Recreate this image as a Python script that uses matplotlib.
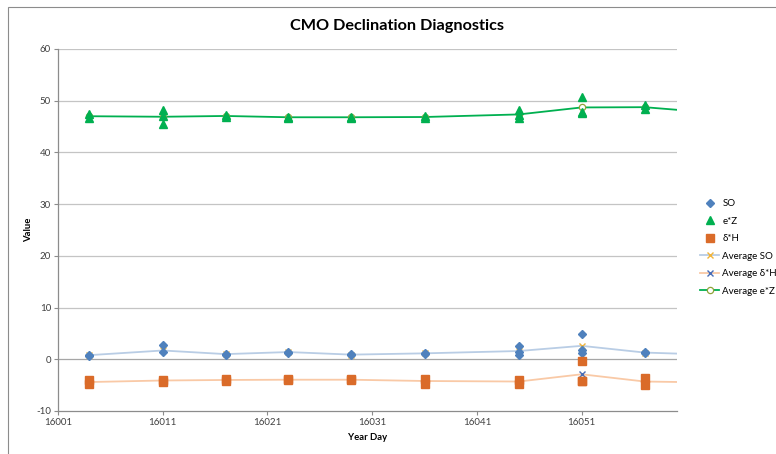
import matplotlib
matplotlib.use("Agg")
import matplotlib.pyplot as plt
from matplotlib.lines import Line2D
from matplotlib.patches import Rectangle

plt.rcParams['font.family'] = ['Lato', 'DejaVu Sans']

# ---- data ----
so_days = [16004, 16004, 16011, 16011, 16017, 16017, 16023, 16023, 16029, 16029,
           16036, 16036, 16045, 16045, 16045, 16051, 16051, 16051, 16057, 16057]
so_vals = [0.9, 0.7, 2.7, 1.4, 1.1, 0.9, 1.5, 1.2, 1.0, 0.8,
           1.3, 1.0, 2.5, 1.4, 0.9, 4.9, 1.8, 1.2, 1.4, 1.2]

ez_days = [16004, 16004, 16011, 16011, 16011, 16017, 16017, 16023, 16023, 16029, 16029,
           16036, 16036, 16045, 16045, 16045, 16051, 16051, 16051, 16057, 16057]
ez_vals = [47.4, 46.6, 48.2, 47.0, 45.5, 47.2, 46.9, 46.9, 46.7, 46.9, 46.7,
           47.1, 46.6, 48.2, 47.3, 46.6, 50.8, 47.8, 47.6, 49.1, 48.4]

dh_days = [16004, 16004, 16011, 16011, 16017, 16017, 16023, 16023, 16029, 16029,
           16036, 16036, 16045, 16045, 16051, 16051, 16051, 16057, 16057]
dh_vals = [-4.0, -4.8, -4.0, -4.3, -3.9, -4.2, -3.8, -4.1, -3.8, -4.1,
           -3.9, -4.7, -4.0, -4.7, -0.3, -4.2, -4.2, -3.7, -4.9]

avg_days = [16004, 16011, 16017, 16023, 16029, 16036, 16045, 16051, 16057, 16064]
avg_so = [0.8, 1.7, 1.0, 1.4, 0.9, 1.15, 1.6, 2.6, 1.3, 0.85]
avg_dh = [-4.4, -4.1, -4.0, -3.95, -3.95, -4.2, -4.3, -2.9, -4.3, -4.5]
avg_ez = [47.0, 46.9, 47.05, 46.8, 46.8, 46.85, 47.35, 48.7, 48.75, 47.6]

x_ticks = [16001, 16011, 16021, 16031, 16041, 16051]
y_ticks = [-10, 0, 10, 20, 30, 40, 50, 60]

# ---- figure ----
W, H = 776, 454
fig = plt.figure(figsize=(W / 100, H / 100), dpi=100)
fig.patches.append(Rectangle((8 / W, -0.1), 1.2, 1 - 7 / H + 0.1, transform=fig.transFigure,
                             fill=False, edgecolor='#8C8C8C', linewidth=0.8))

ax = fig.add_axes([58 / W, 1 - 411 / H, (677 - 58) / W, (411 - 49) / H])

c_so = '#4F81BD'
c_ez = '#00B050'
c_dh = '#DA6B29'

ax.plot(avg_days, avg_so, color='#B9CDE5', lw=1.3, marker='x', ms=4, mec='#F0B43C',
        mew=1.0, zorder=2)
ax.plot(avg_days, avg_dh, color='#F9C9A6', lw=1.3, marker='x', ms=4, mec='#4A6DB5',
        mew=1.0, zorder=2)
ax.plot(avg_days, avg_ez, color=c_ez, lw=1.3, marker='o', ms=4.5, mfc='white',
        mec='#8FA33A', mew=0.9, zorder=2)

ax.plot(so_days, so_vals, ls='none', marker='D', ms=4.5, color=c_so, zorder=3)
ax.plot(ez_days, ez_vals, ls='none', marker='^', ms=6, color=c_ez, zorder=3)
ax.plot(dh_days, dh_vals, ls='none', marker='s', ms=5.5, color=c_dh, zorder=3)

ax.set_xlim(16001, 16060.1)
ax.set_ylim(-10, 60)
ax.set_xticks(x_ticks)
ax.set_xticklabels([str(t) for t in x_ticks])
ax.set_yticks(y_ticks)
ax.set_yticklabels([str(t) for t in y_ticks])

for y in y_ticks[1:]:
    ax.axhline(y, color='#A6A6A6' if y == 0 else '#C4C4C4', lw=0.9, zorder=1)

for s in ['top', 'right']:
    ax.spines[s].set_visible(False)
for s in ['left', 'bottom']:
    ax.spines[s].set_color('#8C8C8C')
    ax.spines[s].set_linewidth(0.9)

ax.tick_params(axis='both', direction='out', length=3, width=0.8, color='#8C8C8C',
               labelsize=7, labelcolor='#404040', pad=2)

ax.set_xlabel('Year Day', fontsize=6.8, fontweight='bold', labelpad=4)
ax.set_ylabel('Value', fontsize=6.8, fontweight='bold', labelpad=2)

fig.text(397 / W, 1 - 26 / H, 'CMO Declination Diagnostics', ha='center', va='center',
         fontsize=11.7, fontweight='bold', color='#000000')

handles = [
    Line2D([], [], ls='none', marker='D', ms=4, color=c_so),
    Line2D([], [], ls='none', marker='^', ms=6, color=c_ez),
    Line2D([], [], ls='none', marker='s', ms=5.5, color=c_dh),
    Line2D([], [], color='#B9CDE5', lw=1.3, marker='x', ms=4, mec='#F0B43C', mew=1.0),
    Line2D([], [], color='#F9C9A6', lw=1.3, marker='x', ms=4, mec='#4A6DB5', mew=1.0),
    Line2D([], [], color=c_ez, lw=1.3, marker='o', ms=4.5, mfc='white', mec='#8FA33A', mew=0.9),
]
labels = ['SO', 'e*Z', 'δ*H', 'Average SO', 'Average δ*H', 'Average e*Z']
fig.legend(handles, labels, loc='center left', bbox_to_anchor=(700 / W, 1 - 247.5 / H),
           frameon=False, fontsize=7, handlelength=2.0, handletextpad=0.3,
           labelspacing=0.87, borderaxespad=0, borderpad=0)

fig.savefig('out.png', dpi=100)
